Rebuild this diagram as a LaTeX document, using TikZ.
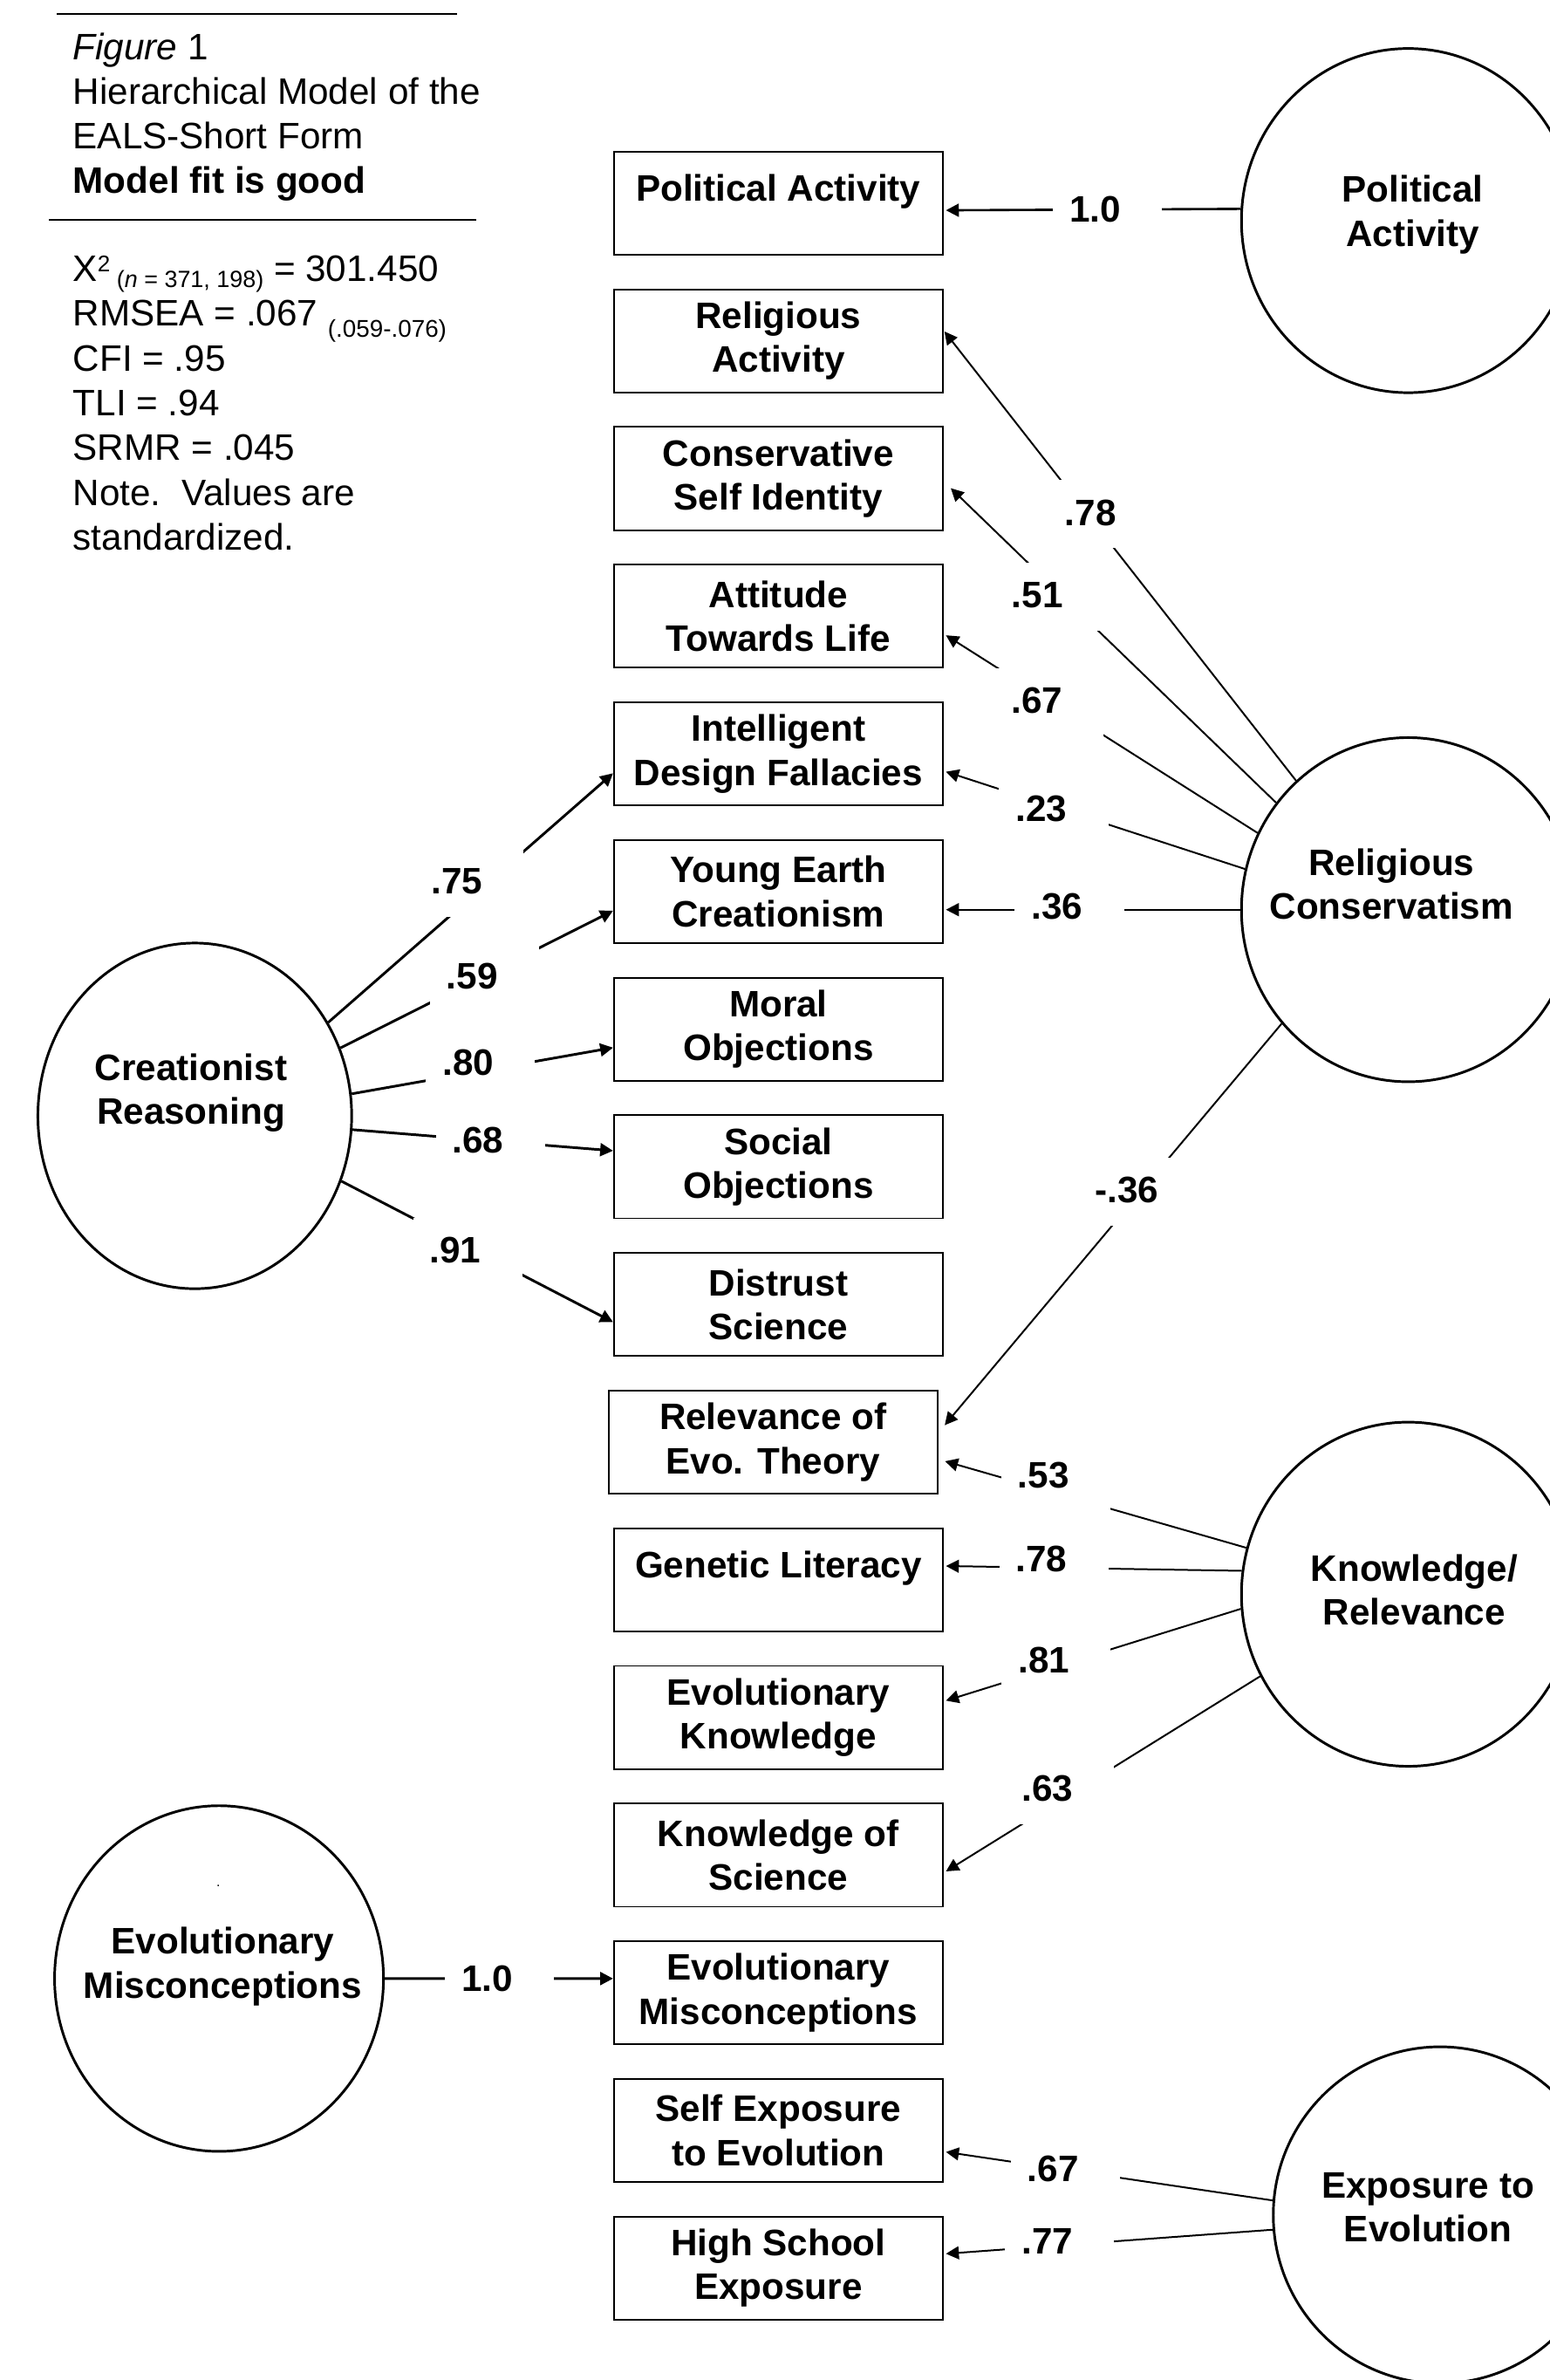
\documentclass[tikz,border=0pt]{standalone}
\usepackage{fontspec}
\setmainfont{Liberation Sans}
\usetikzlibrary{shapes.geometric,arrows.meta,calc}

\begin{document}
\begin{tikzpicture}[x=1pt,y=-1pt,node distance=90.8pt,>={Triangle[length=8.5pt,width=8.5pt]},font=\fontsize{24.3}{29.5}\selectfont]
\tikzstyle{ind}=[rectangle,draw,line width=1.1pt,minimum width=217pt,minimum height=68pt,inner sep=0pt,align=center,font=\fontsize{24.3}{29}\selectfont\bfseries]
\tikzstyle{lat}=[ellipse,draw,line width=1.7pt,minimum width=220pt,minimum height=227pt,inner sep=0pt]
\tikzstyle{latname}=[align=center,inner sep=0pt,font=\fontsize{24.3}{29}\selectfont\bfseries]
\tikzstyle{load}=[fill=white,text width=50pt,align=left,inner xsep=11pt,inner ysep=13pt,text height=17pt,text depth=2pt,xshift=8.5pt,yshift=-1pt,font=\fontsize{24.3}{29}\selectfont\bfseries]
\tikzstyle{thinpath}=[line width=1.15pt]
\tikzstyle{thickpath}=[line width=1.7pt]
\useasboundingbox (0,0) rectangle (1022,1569.8);

% caption and fit
\draw[line width=1.4pt] (37.5,9.2) -- (301.6,9.2);
\draw[line width=1.6pt] (32.4,145) -- (314,145);
\node[anchor=base west,align=left,inner sep=0pt] (title) at (48,127.7) {\textit{Figure} 1\\Hierarchical Model of the\\EALS-Short Form\\\textbf{Model fit is good}};
\node[anchor=base west,align=left,inner sep=0pt] (fit) at (48,362.7) {Χ\raisebox{6.5pt}{\fontsize{15}{15}\selectfont 2}\raisebox{-4pt}{\fontsize{15.5}{15.5}\selectfont\ (\textit{n} = 371, 198)} = 301.450\\RMSEA = .067\ \raisebox{-7pt}{\fontsize{16}{16}\selectfont(.059-.076)}\\CFI = .95\\TLI = .94\\SRMR = .045\\Note.\ \ Values are\\standardized.};

% indicators
\node[ind] (political) at (513.5,134) {Political Activity\\[-9pt]\mbox{}};
\node[ind, below of=political] (religious) {Religious\\Activity};
\node[ind, below of=religious] (conservative) {Conservative\\Self Identity};
\node[ind, below of=conservative] (attitude) {Attitude\\Towards Life};
\node[ind, below of=attitude] (design) {Intelligent\\Design Fallacies};
\node[ind, below of=design] (youngearth) {Young Earth\\Creationism};
\node[ind, below of=youngearth] (moral) {Moral\\Objections};
\node[ind, below of=moral] (social) {Social\\Objections};
\node[ind, below of=social] (distrust) {Distrust\\Science};
\node[ind, below of=distrust, xshift=-3.5pt] (relevance) {Relevance of\\Evo. Theory};
\node[ind, below of=relevance, xshift=3.5pt] (genetic) {Genetic Literacy\\[-9pt]\mbox{}};
\node[ind, below of=genetic] (evoknow) {Evolutionary\\Knowledge};
\node[ind, below of=evoknow] (knowsci) {Knowledge of\\Science};
\node[ind, below of=knowsci] (misconbox) {Evolutionary\\Misconceptions};
\node[ind, below of=misconbox] (selfexp) {Self Exposure\\to Evolution};
\node[ind, below of=selfexp] (hsexp) {High School\\Exposure};

% latent factors
\node[lat, label={[latname,xshift=3pt,yshift=4pt]center:Political\\Activity}] (polact) at (929,145.5) {};
\node[lat, label={[latname,xshift=-11pt,yshift=17pt]center:Religious\\Conservatism}] (relcons) at (929,600) {};
\node[lat, label={[latname,xshift=4pt,yshift=3pt]center:Knowledge/\\Relevance}] (knowrel) at (929,1051.5) {};
\node[lat, minimum width=207pt, minimum height=228pt, label={[latname,xshift=-2.5pt,yshift=15pt]center:Creationist\\Reasoning}] (creat) at (128.5,736) {};
\node[lat, minimum width=217pt, minimum height=228pt, label={[latname,xshift=2.5pt,yshift=8pt]center:Evolutionary\\Misconceptions}] (misconc) at (144.5,1305) {};
\node[lat, minimum height=222pt, label={[latname,xshift=-8pt,yshift=5pt]center:Exposure to\\Evolution}] (exposure) at (950,1461) {};
\node[inner sep=0pt,font=\fontsize{9}{9}\selectfont] (dot) at (144,1244) {.};

% loadings
\draw[->,line width=1.5pt] (polact.176) -- ($(political.east)+(1.5,4.7)$);
\draw[->,thinpath] (relcons.131) -- ($(religious.east)+(0.5,-6.2)$);
\draw[->,thinpath] (relcons.141) -- ($(conservative.east)+(4.7,6.4)$);
\draw[->,thinpath] (relcons.153) -- ($(attitude.east)+(1.5,12.6)$);
\draw[->,thinpath] (relcons.166) -- ($(design.east)+(1.5,11.8)$);
\draw[->,thinpath] (relcons.180) -- ($(youngearth.east)+(1.5,12)$);
\draw[->,thinpath] (relcons.222) -- ($(relevance.east)+(4.2,-11.2)$);
\draw[->,thinpath] (knowrel.164) -- ($(relevance.east)+(4.4,12.6)$);
\draw[->,thinpath] (knowrel.172) -- ($(genetic.east)+(1.5,-9.1)$);
\draw[->,thinpath] (knowrel.185) -- ($(evoknow.east)+(1.5,-11.1)$);
\draw[->,thinpath] (knowrel.209) -- ($(knowsci.east)+(1.5,10.7)$);
\draw[->,thinpath] (exposure.175) -- ($(selfexp.east)+(1.5,14.2)$);
\draw[->,thinpath] (exposure.185) -- ($(hsexp.east)+(1.5,-9.5)$);
\draw[->,thickpath] (creat.35) -- ($(design.west)+(0,12.8)$);
\draw[->,thickpath] (creat.25) -- ($(youngearth.west)+(0,12.7)$);
\draw[->,thickpath] (creat.8) -- ($(moral.west)+(0,12.2)$);
\draw[->,thickpath] (creat.-5) -- ($(social.west)+(0,-10.6)$);
\draw[->,thickpath] (creat.-24) -- ($(distrust.west)+(0,11.6)$);
\draw[->,thickpath] (misconc.0) -- ($(misconbox.west)+(0,-9.4)$);

% values
\node[load] (lpol) at (722,138) {1.0};
\node[load] (lrel) at (719,338) {.78};
\node[load] (lcons) at (684,392.5) {.51};
\node[load] (latt) at (683.6,462) {.67};
\node[load] (ldes) at (686.6,533) {.23};
\node[load] (lyoung) at (697,598) {.36};
\node[load] (lrelev) at (739,785) {-.36};
\node[load] (lrelkn) at (688,973) {.53};
\node[load] (lgen) at (686.7,1028.4) {.78};
\node[load] (lknow) at (688.2,1094.9) {.81};
\node[load] (lsci) at (690.5,1179.6) {.63};
\node[load] (lself) at (694.3,1430.5) {.67};
\node[load] (lhs) at (690.5,1477.9) {.77};
\node[load] (lcdes) at (301,581) {.75};
\node[load] (lcyoung) at (311,644) {.59};
\node[load] (lcmor) at (308.5,701) {.80};
\node[load] (lcsoc) at (315,752) {.68};
\node[load] (lcdis) at (300,824.6) {.91};
\node[load] (lmis) at (321,1305) {1.0};
\end{tikzpicture}
\end{document}
